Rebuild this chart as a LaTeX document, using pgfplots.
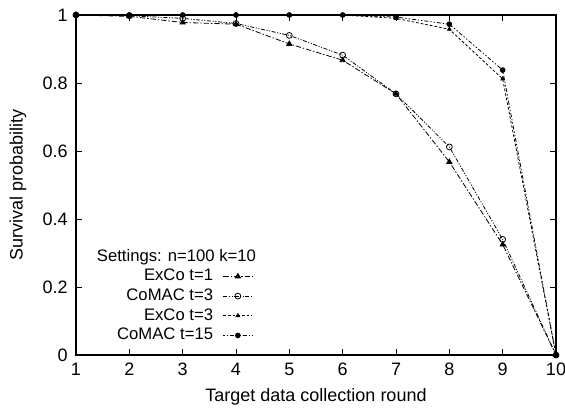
\documentclass[border=0pt]{standalone}
\usepackage{pgfplots}
\pgfplotsset{compat=1.18}
\usepackage{fontspec}
\setmainfont{Liberation Sans}
\begin{document}
\fontsize{13.5}{16}\selectfont
\begin{tikzpicture}
\begin{axis}[
  name=ax,
  scale only axis,
  width=360pt, height=255pt,
  xmin=1, xmax=10, ymin=0, ymax=1,
  xtick={1,...,10},
  ytick={0,0.2,0.4,0.6,0.8,1},
  yticklabels={0,0.2,0.4,0.6,0.8,1},
  /pgf/number format/assume math mode=true,
  tick label style={font=\fontsize{13.5}{16}\selectfont},
  tick align=inside,
  major tick length=4.5pt,
  axis line style={line width=1.1pt},
  tick style={line width=0.6pt, black},
  xticklabel style={yshift=-1.5pt},
  yticklabel style={xshift=-1.5pt},
  legend style={at={(0.377,0.02)}, anchor=south east, draw=none, fill=none,
    row sep=0pt, column sep=5.5pt, font=\fontsize{12.5}{14}\selectfont},
  legend cell align=right,
  legend plot pos=right,
  legend image code/.code={\draw[mark repeat=2,mark phase=2] plot coordinates {(0cm,0cm) (0.38cm,0cm) (0.76cm,0cm)};},
  every axis plot/.append style={line width=0.6pt, black},
]
\addplot[dash pattern=on 4pt off 1.5pt on 1pt off 1.5pt, mark=triangle*, mark size=2.2pt, mark options={solid}]
  coordinates {(1,1) (2,0.996) (3,0.978) (4,0.973) (5,0.915) (6,0.867) (7,0.768) (8,0.568) (9,0.325) (10,0)};
\addlegendentry{ExCo t=1}
\addplot[dash pattern=on 3pt off 1.2pt on 0.8pt off 1.2pt on 0.8pt off 1.2pt, mark=o, mark size=2.2pt, mark options={solid}]
  coordinates {(1,1) (2,0.998) (3,0.99) (4,0.975) (5,0.94) (6,0.882) (7,0.768) (8,0.612) (9,0.34) (10,0)};
\addlegendentry{CoMAC t=3}
\addplot[dash pattern=on 2pt off 1.5pt, mark=triangle*, mark size=1.6pt, mark options={solid}]
  coordinates {(1,1) (2,1) (3,1) (4,1) (5,1) (6,1) (7,0.99) (8,0.958) (9,0.812) (10,0)};
\addlegendentry{ExCo t=3}
\addplot[dash pattern=on 1pt off 1.5pt on 1pt off 1.5pt on 3pt off 1.5pt, mark=*, mark size=1.8pt, mark options={solid}]
  coordinates {(1,1) (2,1) (3,1) (4,1) (5,1) (6,1) (7,0.994) (8,0.973) (9,0.838) (10,0)};
\addlegendentry{CoMAC t=15}
\node[anchor=west, inner sep=0pt, font=\fontsize{12.5}{14}\selectfont] at (rel axis cs:0.043,0.288) {Settings: n=100 k=10};
\end{axis}
\node[rotate=90] at ([xshift=-43.5pt]ax.west) {Survival probability};
\node at ([yshift=-31.5pt]ax.south) {Target data collection round};
\pgfresetboundingbox
\path ([xshift=-57pt,yshift=-42pt]ax.south west) rectangle ([xshift=6.75pt,yshift=11.25pt]ax.north east);
\end{tikzpicture}
\end{document}
